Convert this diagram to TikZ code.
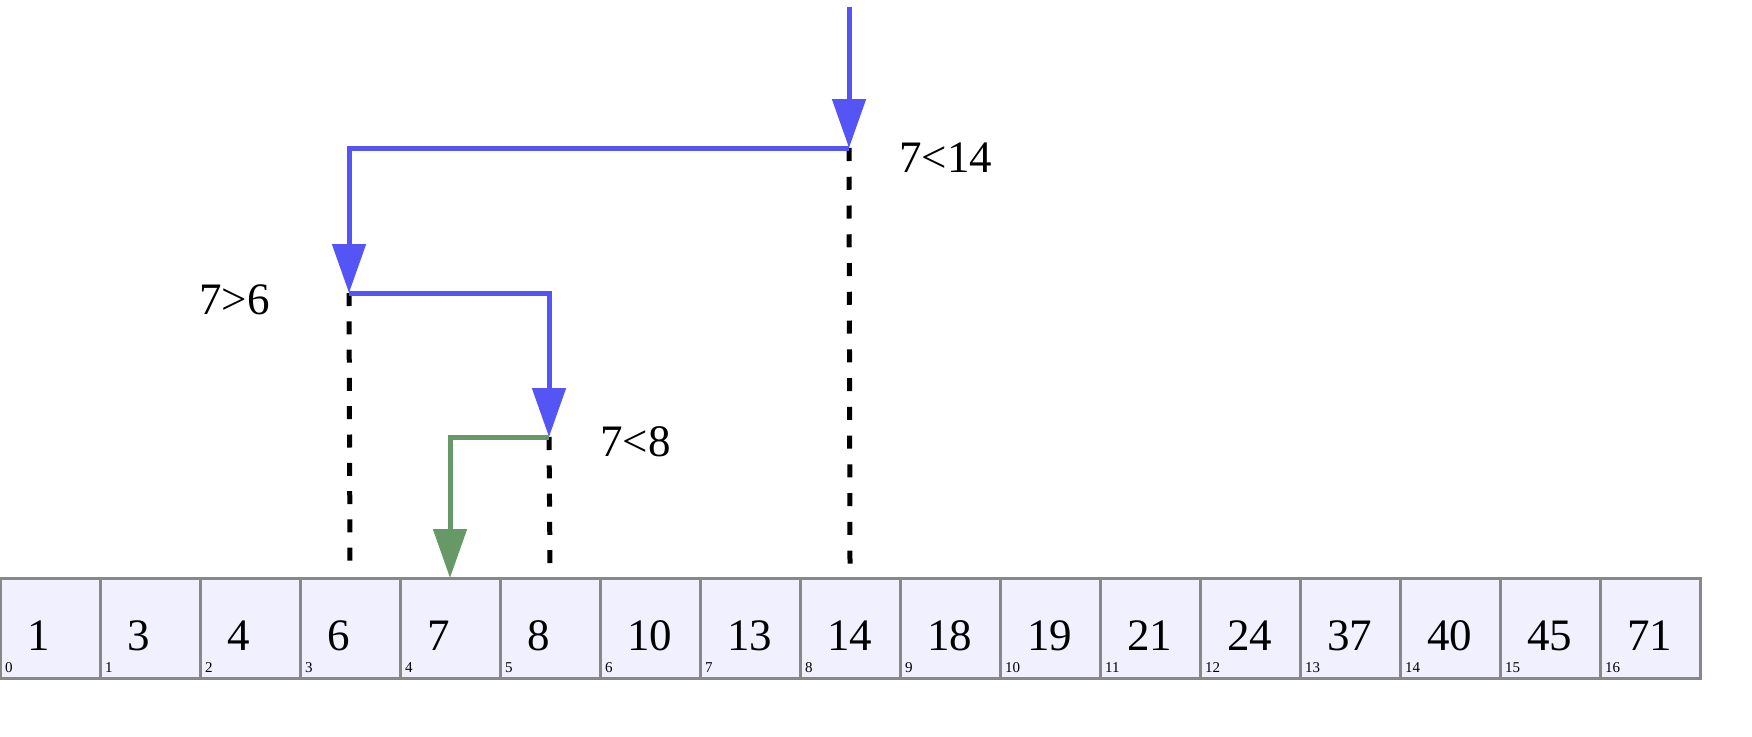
\documentclass[tikz,border=0pt]{standalone}
\usepackage{fontspec}
\setmainfont{Liberation Serif}
\usetikzlibrary{arrows.meta}
\definecolor{probeblue}{HTML}{5555F5}
\definecolor{foundgreen}{HTML}{669966}
\definecolor{cellgray}{HTML}{888888}
\definecolor{cellfill}{HTML}{F0F0FF}
\tikzset{
  cellbox/.style={draw=cellgray, fill=cellfill, line width=3pt, minimum width=100pt,
                  minimum height=100pt, inner sep=0pt, outer sep=0pt},
  bigtxt/.style={inner sep=0pt, anchor=base west, font=\fontsize{45}{54}\selectfont},
  idxtxt/.style={inner sep=0pt, anchor=base west, font=\fontsize{15}{17}\selectfont},
  probe/.style={draw=probeblue, line width=5pt, line join=miter,
                -{Triangle[width=33pt,length=49pt]}},
  found/.style={draw=foundgreen, line width=5pt, line join=miter,
                -{Triangle[width=33pt,length=49pt]}},
  midline/.style={draw=black, line width=5pt, dash pattern=on 13pt off 15.3pt}
}
\begin{document}
\begin{tikzpicture}[x=1pt,y=-1pt]
  \useasboundingbox (0,0) rectangle (1752,736);

  % sorted array cells with values and indices
  \foreach \v [count=\i from 0] in {1,3,4,6,7,8,10,13,14,18,19,21,24,37,40,45,71} {
    \node[cellbox] (c\i) at (\i*100+50,628) {};
    \node[bigtxt] (n\i) at (\i*100+27,650) {\v};
    \node[idxtxt] (k\i) at (\i*100+5,672) {\i};
  }

  % probe points of the binary search
  \coordinate (start) at (849,7);
  \coordinate (p14) at (849,148);
  \coordinate (p6) at (349,293);
  \coordinate (p8) at (549,437);

  % comparison labels
  \node[bigtxt] (l14) at (899,172) {7<14};
  \node[bigtxt] (l6) at (199,314) {7>6};
  \node[bigtxt] (l8) at (600,456) {7<8};

  % dashed drops from each probe to its cell
  \draw[midline, dash pattern=on 13pt off 15.75pt] (p14) -- ([yshift=13.5pt]c8.north);
  \draw[midline] (p6) -- ([yshift=13.5pt]c3.north);
  \draw[midline] (p8) -- ([yshift=13.5pt]c5.north);

  % search path
  \draw[probe] (start) -- (p14);
  \draw[probe] (p14) -| (p6);
  \draw[probe] (p6) -| (p8);
  \draw[found] (p8) -| (c4.north);
\end{tikzpicture}
\end{document}
